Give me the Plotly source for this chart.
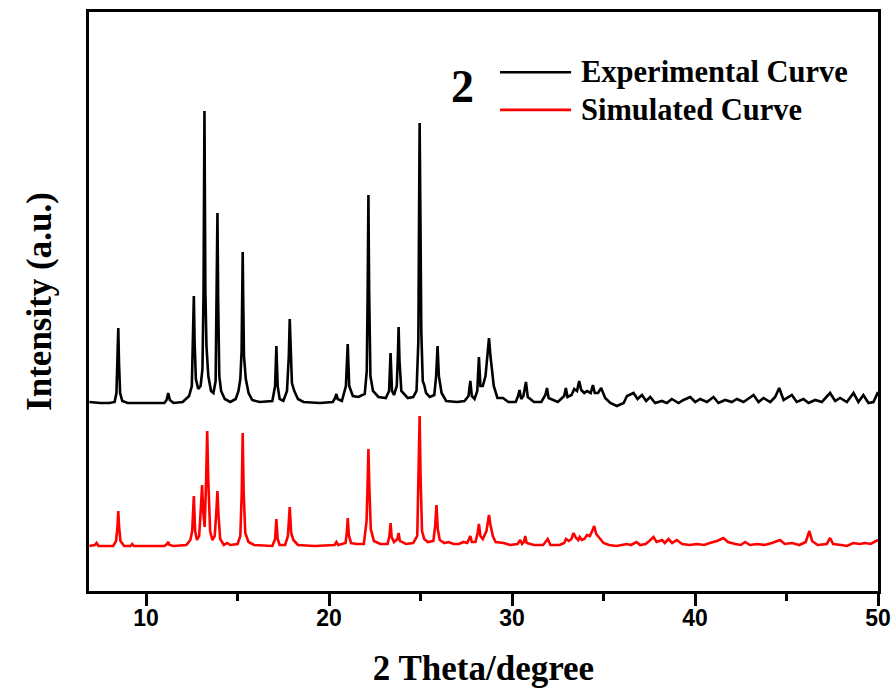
import plotly.graph_objects as go

# ---------------- data ----------------
exp_theta = [
    6.9, 7.5, 8.0, 8.28, 8.38, 8.44, 8.48, 8.52, 8.58, 8.7, 9.0, 10.0,
    11.0, 11.12, 11.21, 11.3, 11.5, 12.0, 12.2, 12.35, 12.5, 12.57, 12.61, 12.65,
    12.72, 12.85, 12.98, 13.08, 13.14, 13.19, 13.24, 13.3, 13.4, 13.55, 13.68, 13.8,
    13.86, 13.9, 13.94, 14.0, 14.1, 14.3, 14.6, 14.9, 15.05, 15.15, 15.22, 15.25,
    15.28, 15.31, 15.35, 15.45, 15.6, 15.8, 16.2, 16.9, 17.05, 17.12, 17.19, 17.3,
    17.5, 17.7, 17.8, 17.85, 17.9, 17.97, 18.1, 18.3, 18.6, 19.5, 20.2, 20.33,
    20.4, 20.47, 20.7, 20.92, 21.02, 21.1, 21.3, 21.6, 21.95, 22.06, 22.11, 22.15,
    22.19, 22.26, 22.4, 22.7, 23.1, 23.28, 23.36, 23.44, 23.55, 23.7, 23.76, 23.8,
    23.85, 23.95, 24.3, 24.6, 24.78, 24.88, 24.92, 24.95, 24.99, 25.04, 25.12, 25.2,
    25.3, 25.5, 25.75, 25.85, 25.93, 26.0, 26.15, 26.4, 27.0, 27.4, 27.62, 27.72,
    27.8, 27.95, 28.1, 28.19, 28.27, 28.4, 28.55, 28.67, 28.74, 28.82, 28.9, 29.0,
    29.2, 29.5, 29.8, 30.2, 30.33, 30.41, 30.5, 30.62, 30.76, 30.86, 31.2, 31.6,
    31.82, 31.91, 32.0, 32.5, 32.85, 32.94, 33.03, 33.25, 33.4, 33.55, 33.67, 33.78,
    33.95, 34.1, 34.3, 34.42, 34.52, 34.7, 34.87, 35.09, 35.37, 35.73, 36.1, 36.28,
    36.64, 36.86, 37.1, 37.33, 37.55, 37.82, 38.19, 38.46, 38.73, 39.1, 39.37, 39.74,
    40.01, 40.28, 40.65, 41.01, 41.28, 41.65, 42.01, 42.29, 42.65, 43.2, 43.47, 43.74,
    44.11, 44.38, 44.6, 44.84, 45.29, 45.56, 45.93, 46.2, 46.57, 46.93, 47.38, 47.66,
    47.93, 48.3, 48.66, 48.93, 49.2, 49.48, 49.75, 50.0,
]
exp_intensity = [
    189, 188, 188, 189, 198, 228, 263, 228, 198, 190, 188, 188,
    188, 191, 198, 191, 188, 189, 193, 195, 205, 250, 295, 250,
    212, 202, 205, 222, 300, 480, 300, 245, 215, 200, 198, 210,
    290, 378, 290, 215, 200, 192, 189, 192, 200, 212, 240, 290,
    339, 290, 235, 212, 198, 191, 189, 190, 205, 245, 205, 192,
    190, 200, 235, 272, 235, 208, 200, 192, 189, 188, 189, 193,
    197, 192, 190, 205, 247, 205, 195, 194, 197, 220, 300, 396,
    300, 215, 200, 194, 193, 200, 238, 200, 196, 205, 235, 264,
    230, 200, 193, 194, 200, 250, 380, 468, 380, 260, 210, 206,
    198, 194, 196, 215, 245, 215, 198, 190, 189, 190, 195, 210,
    195, 192, 200, 234, 205, 205, 215, 245, 253, 235, 221, 205,
    193, 193, 189, 189, 195, 201, 192, 195, 209, 194, 189, 189,
    196, 203, 193, 189, 195, 203, 194, 196, 202, 200, 210, 201,
    198, 200, 198, 206, 198, 198, 203, 193, 188, 185, 188, 195,
    198, 192, 196, 190, 194, 188, 190, 188, 192, 188, 191, 194,
    189, 192, 189, 194, 188, 191, 189, 192, 189, 196, 189, 193,
    189, 194, 203, 191, 196, 189, 192, 188, 191, 189, 198, 190,
    193, 189, 198, 189, 196, 188, 189, 199,
]

sim_theta = [
    6.9, 7.2, 7.29, 7.4, 8.2, 8.36, 8.44, 8.48, 8.52, 8.6, 8.8, 9.15,
    9.24, 9.33, 11.0, 11.14, 11.21, 11.28, 11.5, 12.2, 12.42, 12.52, 12.61, 12.68,
    12.78, 12.9, 13.0, 13.06, 13.12, 13.2, 13.28, 13.34, 13.4, 13.5, 13.62, 13.75,
    13.84, 13.9, 13.96, 14.05, 14.25, 14.43, 14.6, 15.0, 15.15, 15.23, 15.28, 15.33,
    15.42, 15.6, 15.9, 16.9, 17.05, 17.12, 17.19, 17.3, 17.6, 17.75, 17.85, 17.93,
    18.05, 18.3, 19.2, 20.3, 20.4, 20.5, 20.9, 20.97, 21.02, 21.08, 21.2, 21.5,
    21.9, 22.05, 22.11, 22.15, 22.2, 22.28, 22.45, 22.8, 23.2, 23.3, 23.36, 23.42,
    23.55, 23.73, 23.8, 23.87, 24.2, 24.6, 24.82, 24.9, 24.95, 25.0, 25.08, 25.2,
    25.4, 25.7, 25.8, 25.87, 25.94, 26.05, 26.3, 26.53, 26.8, 27.1, 27.35, 27.55,
    27.66, 27.72, 27.8, 28.0, 28.12, 28.19, 28.27, 28.4, 28.6, 28.74, 28.82, 28.95,
    29.1, 29.54, 29.9, 30.3, 30.45, 30.55, 30.65, 30.72, 30.8, 31.2, 31.7, 31.85,
    31.95, 32.1, 32.6, 32.85, 32.95, 33.1, 33.25, 33.36, 33.5, 33.62, 33.7, 33.82,
    33.95, 34.1, 34.25, 34.38, 34.49, 34.6, 34.8, 35.0, 35.3, 35.7, 36.0, 36.27,
    36.5, 36.8, 37.0, 37.3, 37.5, 37.73, 37.9, 38.2, 38.35, 38.55, 38.75, 39.0,
    39.3, 39.7, 40.1, 40.5, 40.8, 41.2, 41.55, 41.8, 42.2, 42.5, 42.74, 43.0,
    43.4, 43.8, 44.2, 44.65, 44.9, 45.3, 45.7, 46.05, 46.25, 46.4, 46.7, 47.2,
    47.38, 47.55, 48.0, 48.3, 48.65, 49.0, 49.3, 49.6, 50.0,
]
sim_intensity = [
    45, 46, 48, 45, 45, 50, 65, 80, 65, 50, 45, 45,
    47, 45, 45, 47, 49, 46, 45, 46, 51, 60, 95, 60,
    51, 55, 85, 106, 80, 64, 110, 160, 110, 60, 51, 55,
    80, 100, 75, 52, 46, 48, 46, 47, 55, 100, 158, 100,
    58, 49, 46, 45, 52, 72, 52, 46, 46, 55, 84, 58,
    51, 46, 45, 46, 49, 46, 48, 58, 73, 56, 48, 47,
    47, 70, 110, 142, 105, 62, 50, 47, 47, 55, 68, 54,
    49, 52, 58, 50, 47, 48, 55, 115, 175, 115, 60, 52,
    49, 50, 65, 86, 62, 51, 48, 49, 47, 47, 49, 48,
    52, 55, 49, 49, 58, 67, 55, 52, 60, 76, 66, 55,
    49, 48, 46, 47, 51, 47, 49, 55, 48, 46, 46, 50,
    52, 46, 46, 48, 52, 50, 52, 58, 53, 51, 54, 51,
    52, 56, 55, 60, 65, 57, 53, 48, 46, 45, 46, 47,
    46, 49, 46, 47, 50, 54, 49, 51, 48, 52, 48, 51,
    47, 46, 47, 46, 48, 50, 53, 49, 47, 46, 49, 46,
    47, 46, 48, 51, 47, 48, 46, 49, 60, 50, 46, 47,
    53, 47, 46, 45, 48, 47, 48, 47, 51,
]

x_tick_values = [10, 20, 30, 40, 50]
series_names = ["Experimental Curve", "Simulated Curve"]
series_colors = ["#000000", "#ff0000"]
sample_label = "2"

# ---------------- figure ----------------
serif = "Liberation Serif, Times New Roman, serif"
narrow = "Liberation Sans Narrow, Arial Narrow, Liberation Sans, sans-serif"

fig = go.Figure()
fig.add_trace(go.Scatter(x=exp_theta, y=exp_intensity, mode="lines",
                         name=series_names[0],
                         line=dict(color=series_colors[0], width=2.6)))
fig.add_trace(go.Scatter(x=sim_theta, y=sim_intensity, mode="lines",
                         name=series_names[1],
                         line=dict(color=series_colors[1], width=2.6)))

fig.update_layout(
    width=894, height=691,
    margin=dict(l=89, r=16, t=12, b=100, autoexpand=False),
    paper_bgcolor="white", plot_bgcolor="white",
    showlegend=False,
)

fig.update_xaxes(
    range=[6.88, 50], tickvals=x_tick_values,
    ticks="outside", ticklen=12, tickwidth=2.5, tickcolor="black",
    minor=dict(dtick=5, tick0=0, ticks="outside", ticklen=7, tickwidth=2.5, tickcolor="black"),
    showline=True, linewidth=2.6, linecolor="black", mirror=True,
    showgrid=False, zeroline=False,
    ticklabelstandoff=-7,
    tickfont=dict(family=narrow, size=23, color="black", weight="bold"),
    title=dict(text="2 Theta/degree", standoff=26,
               font=dict(family=serif, size=35, color="black", weight="bold")),
)
fig.update_yaxes(
    range=[0, 579], showticklabels=False, ticks="",
    showline=True, linewidth=2.6, linecolor="black", mirror=True,
    showgrid=False, zeroline=False,
    title=dict(text="Intensity (a.u.)", standoff=24,
               font=dict(family=serif, size=35, color="black", weight="bold")),
)

# legend drawn manually (long line samples as in the reference)
leg_y = [0.896, 0.831]
for yy, col, name in zip(leg_y, series_colors, series_names):
    fig.add_shape(type="line", xref="paper", yref="paper",
                  x0=0.521, x1=0.611, y0=yy, y1=yy,
                  line=dict(color=col, width=2.6))
    fig.add_annotation(xref="paper", yref="paper", x=0.621, y=yy,
                       xanchor="left", yanchor="middle", showarrow=False,
                       text=name,
                       font=dict(family=serif, size=30.5, color="black", weight="bold"))
fig.add_annotation(xref="paper", yref="paper", x=0.473, y=0.872,
                   xanchor="center", yanchor="middle", showarrow=False,
                   text=sample_label,
                   font=dict(family=serif, size=46, color="black", weight="bold"))

fig.write_html("out.html")
